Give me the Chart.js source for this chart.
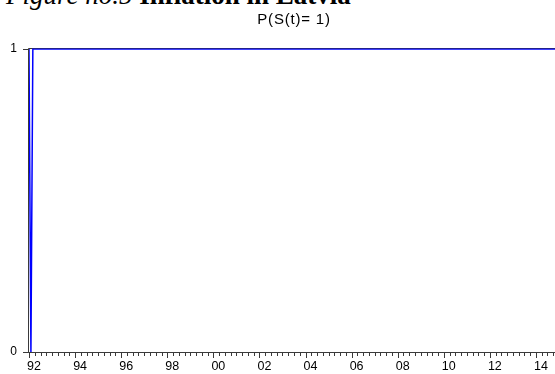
<!DOCTYPE html>
<html>
<head>
<meta charset="utf-8">
<script src="https://cdn.jsdelivr.net/npm/chart.js@4"></script>
<style>
html,body{margin:0;padding:0;background:#fff;overflow:hidden;width:555px;height:374px;}
#hdr{position:absolute;left:6px;top:-17.6px;font-family:"Liberation Serif","Times New Roman",serif;font-size:27px;line-height:27px;white-space:nowrap;color:#000;}
#wrap{position:absolute;left:0;top:0;width:560px;height:374px;}
</style>
</head>
<body>
<div id="hdr"><i>Figure no.5</i> <b>Inflation in Latvia</b></div>
<div id="wrap"><canvas id="c"></canvas></div>
<script>
// Sample: monthly, 1992M01 .. 2014M12
const startYear = 1992;
const endYear = 2015;
const chartTitle = "P(S(t)= 1)";
// Smoothed regime probability, one row per year (Jan..Dec)
const prob1992 = [1,0,1,1,1,1,1,1,1,1,1,1];
const prob1993 = [1,1,1,1,1,1,1,1,1,1,1,1];
const prob1994 = [1,1,1,1,1,1,1,1,1,1,1,1];
const prob1995 = [1,1,1,1,1,1,1,1,1,1,1,1];
const prob1996 = [1,1,1,1,1,1,1,1,1,1,1,1];
const prob1997 = [1,1,1,1,1,1,1,1,1,1,1,1];
const prob1998 = [1,1,1,1,1,1,1,1,1,1,1,1];
const prob1999 = [1,1,1,1,1,1,1,1,1,1,1,1];
const prob2000 = [1,1,1,1,1,1,1,1,1,1,1,1];
const prob2001 = [1,1,1,1,1,1,1,1,1,1,1,1];
const prob2002 = [1,1,1,1,1,1,1,1,1,1,1,1];
const prob2003 = [1,1,1,1,1,1,1,1,1,1,1,1];
const prob2004 = [1,1,1,1,1,1,1,1,1,1,1,1];
const prob2005 = [1,1,1,1,1,1,1,1,1,1,1,1];
const prob2006 = [1,1,1,1,1,1,1,1,1,1,1,1];
const prob2007 = [1,1,1,1,1,1,1,1,1,1,1,1];
const prob2008 = [1,1,1,1,1,1,1,1,1,1,1,1];
const prob2009 = [1,1,1,1,1,1,1,1,1,1,1,1];
const prob2010 = [1,1,1,1,1,1,1,1,1,1,1,1];
const prob2011 = [1,1,1,1,1,1,1,1,1,1,1,1];
const prob2012 = [1,1,1,1,1,1,1,1,1,1,1,1];
const prob2013 = [1,1,1,1,1,1,1,1,1,1,1,1];
const prob2014 = [1,1,1,1,1,1,1,1,1,1,1,1];
const yTickValues = [0, 1];
const xLabelYears = [1992,1994,1996,1998,2000,2002,2004,2006,2008,2010,2012,2014];

const probRows = [prob1992,prob1993,prob1994,prob1995,prob1996,prob1997,prob1998,prob1999,
  prob2000,prob2001,prob2002,prob2003,prob2004,prob2005,prob2006,prob2007,prob2008,
  prob2009,prob2010,prob2011,prob2012,prob2013,prob2014];
const points = [];
probRows.forEach((row, yi) => row.forEach((v, m) => points.push({x: startYear + yi + m/12, y: v})));

const FRAME = '#3a3a3a';
const framePlugin = {
  id: 'frame',
  beforeDatasetsDraw(chart) {
    const {ctx, chartArea: a, scales: {x}} = chart;
    ctx.save();
    ctx.strokeStyle = FRAME;
    ctx.lineWidth = 1;
    ctx.beginPath();
    ctx.moveTo(Math.round(a.left) - 0.5, Math.round(a.top) - 0.5);
    ctx.lineTo(Math.round(a.right) + 0.5, Math.round(a.top) - 0.5);
    ctx.stroke();
    // quarterly ticks on the time axis
    ctx.beginPath();
    for (let q = startYear * 4; q <= endYear * 4; q++) {
      const px = Math.round(x.getPixelForValue(q / 4)) + 0.5;
      const len = (q % 8 === 0) ? 5 : 3;
      ctx.moveTo(px, Math.round(a.bottom) + 1);
      ctx.lineTo(px, Math.round(a.bottom) + 1 + len);
    }
    ctx.stroke();
    // title with wide tracking
    const cx = (a.left + a.right) / 2;
    ctx.fillStyle = '#000';
    ctx.font = '15px "Liberation Sans", Arial, sans-serif';
    if ('letterSpacing' in ctx) ctx.letterSpacing = '0.8px';
    ctx.textAlign = 'center';
    ctx.textBaseline = 'middle';
    ctx.fillText(chartTitle, cx, 20);
    ctx.restore();
  },
  afterDatasetsDraw(chart) {
    const {ctx, chartArea: a} = chart;
    ctx.save();
    ctx.strokeStyle = FRAME;
    ctx.lineWidth = 1;
    ctx.beginPath();
    ctx.moveTo(Math.round(a.left) - 0.5, Math.round(a.bottom) + 0.5);
    ctx.lineTo(Math.round(a.left) - 0.5, Math.round(a.top) - 0.5);
    ctx.moveTo(Math.round(a.left) - 1, Math.round(a.bottom) + 0.5);
    ctx.lineTo(Math.round(a.right) + 1, Math.round(a.bottom) + 0.5);
    ctx.stroke();
    ctx.globalAlpha = 0.45;
    ctx.beginPath();
    ctx.moveTo(Math.round(a.left) - 0.5, Math.round(a.top) - 0.5);
    ctx.lineTo(Math.round(a.right) + 0.5, Math.round(a.top) - 0.5);
    ctx.stroke();
    ctx.restore();
  }
};

new Chart(document.getElementById('c'), {
  type: 'line',
  data: {
    datasets: [{
      data: points,
      borderColor: '#0000ff',
      borderWidth: 1.5,
      pointRadius: 0,
      tension: 0,
      fill: false,
      clip: false
    }]
  },
  options: {
    responsive: true,
    maintainAspectRatio: false,
    animation: false,
    layout: {padding: {left: 0, right: 1, top: 49, bottom: 0}},
    plugins: {
      legend: {display: false},
      tooltip: {enabled: false},
      title: {display: false}
    },
    scales: {
      x: {
        type: 'linear',
        min: startYear,
        max: endYear,
        afterBuildTicks(scale) {
          scale.ticks = xLabelYears.map(v => ({value: v}));
        },
        afterFit(scale) { scale.height = 22; },
        grid: {display: false, drawTicks: false},
        border: {display: false},
        ticks: {
          autoSkip: false,
          maxRotation: 0,
          labelOffset: 5,
          padding: 7,
          color: '#000',
          font: {family: 'Liberation Sans, Arial, sans-serif', size: 12.5},
          callback: v => String(v % 100).padStart(2, '0')
        }
      },
      y: {
        type: 'linear',
        min: 0,
        max: 1,
        afterBuildTicks(scale) {
          scale.ticks = yTickValues.map(v => ({value: v}));
        },
        afterFit(scale) { scale.width = 29; },
        grid: {display: true, drawOnChartArea: false, drawTicks: true, tickLength: 6, color: FRAME},
        border: {display: false},
        ticks: {
          padding: 6,
          color: '#000',
          font: {family: 'Liberation Sans, Arial, sans-serif', size: 12}
        }
      }
    }
  },
  plugins: [framePlugin]
});
</script>
</body>
</html>
